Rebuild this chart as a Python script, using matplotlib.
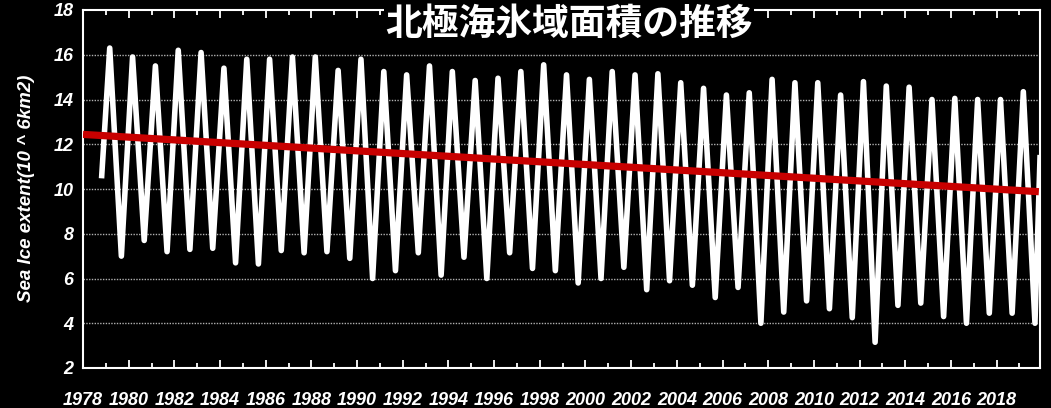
import matplotlib
matplotlib.use("Agg")
import matplotlib.pyplot as plt
import numpy as np

# ---- data ----
years = list(range(1979, 2020))
annual_max = [16.3, 15.9, 15.5, 16.2, 16.1, 15.4, 15.8, 15.8, 15.9, 15.9,
              15.3, 15.8, 15.25, 15.1, 15.5, 15.25, 14.85, 14.95, 15.25, 15.55,
              15.1, 14.9, 15.25, 15.1, 15.15, 14.75, 14.5, 14.2, 14.3, 14.9,
              14.75, 14.75, 14.2, 14.8, 14.6, 14.55, 14.0, 14.05, 14.0, 14.0,
              14.35]
annual_min = [7.0, 7.7, 7.2, 7.3, 7.35, 6.7, 6.65, 7.25, 7.15, 7.2,
              6.9, 6.0, 6.35, 7.15, 6.15, 6.95, 6.0, 7.15, 6.45, 6.35,
              5.8, 6.0, 6.5, 5.5, 5.9, 5.7, 5.15, 5.6, 4.0, 4.5,
              5.0, 4.65, 4.25, 3.15, 4.8, 4.9, 4.3, 4.0, 4.45, 4.45,
              4.0]
max_time_offset = 0.17   # early March
min_time_offset = 0.68   # early September
start_time, start_value = 1978.82, 10.6
end_time, end_value = 2019.9, 11.4

trend_years = [1978.0, 2019.85]
trend_values = [12.44, 9.88]

yticks = [2, 4, 6, 8, 10, 12, 14, 16, 18]
xtick_years = list(range(1978, 2020, 2))

title = "北極海氷域面積の推移"
ylabel = "Sea Ice extent(10 ^ 6km2)"

# ---- build series ----
t = [start_time]
v = [start_value]
for y, mx, mn in zip(years, annual_max, annual_min):
    t += [y + max_time_offset, y + min_time_offset]
    v += [mx, mn]
t.append(end_time)
v.append(end_value)

fig = plt.figure(figsize=(10.51, 4.08), dpi=100, facecolor="black")
ax = fig.add_axes([83/1051, 40/408, (1040-83)/1051, (368-10)/408])
ax.set_facecolor("black")

ax.plot(t, v, color="white", lw=4.0, solid_joinstyle="round", zorder=3)
ax.plot(trend_years, trend_values, color="#c80000", lw=5.2,
        solid_capstyle="butt", zorder=4)

ax.set_xlim(1978, 2019.9)
ax.set_ylim(2, 18)
ax.set_yticks(yticks)
ax.set_xticks(xtick_years)
ax.set_xticks(list(range(1979, 2020, 2)), minor=True)

for yv in yticks[1:-1]:
    ax.axhline(yv, color="#b0b0b0", lw=1.0, ls=(0, (1, 1)), zorder=1)

for s in ax.spines.values():
    s.set_color("white")
    s.set_linewidth(1.5)

lab_font = dict(family="Liberation Sans", weight="bold", style="italic", size=13)
ax.tick_params(axis="x", which="major", direction="in", length=6, width=1.3,
               colors="white", top=True, pad=17)
ax.tick_params(axis="x", which="minor", direction="in", length=3.5, width=1.3,
               colors="white", top=True)
ax.tick_params(axis="y", length=0, colors="white", pad=7)
ax.set_xticklabels([str(x) for x in xtick_years], fontdict=lab_font, color="white")
ax.set_yticklabels([str(x) for x in yticks], fontdict=lab_font, color="white")

fig.text(27/1051, 1 - 188/408, ylabel, rotation=90, ha="center", va="center",
         color="white", family="Liberation Sans", style="italic", weight="bold",
         size=13.5)

fig.text(569/1051, 1 - 24/408, title, ha="center", va="center", color="white",
         family=["Noto Sans CJK JP", "DejaVu Sans"], weight="bold", size=26.5,
         bbox=dict(facecolor="black", edgecolor="none", pad=1), zorder=10)

fig.savefig("out.png", dpi=100, facecolor="black")
